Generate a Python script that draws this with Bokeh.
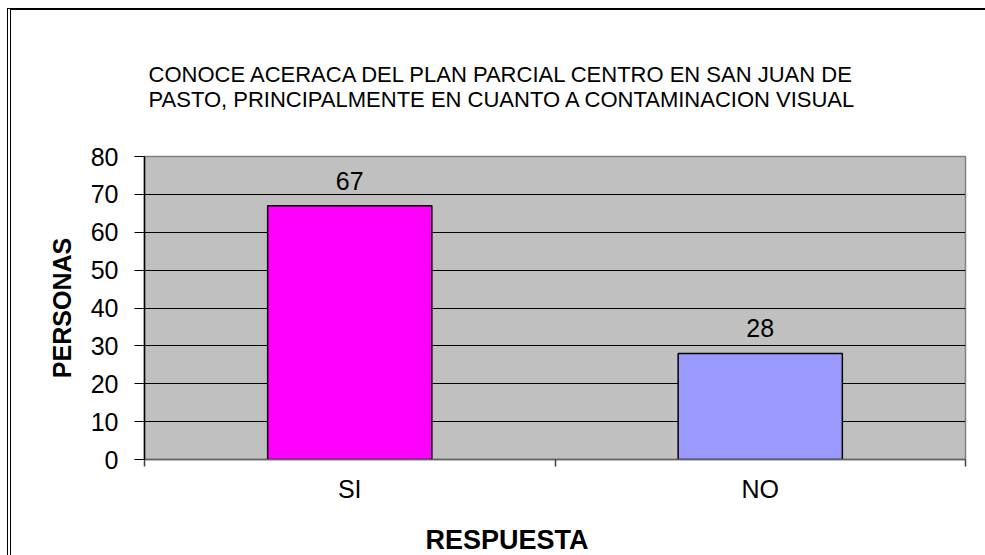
from bokeh.plotting import figure
from bokeh.models import FixedTicker, ColumnDataSource, Range1d, Title
from bokeh.core.properties import value
from bokeh.embed import file_html
from bokeh.resources import INLINE

# ---- data ----
categories = ["SI", "NO"]
personas = [67, 28]
bar_colors = ["#FF00FF", "#9999FF"]
y_ticks = [0, 10, 20, 30, 40, 50, 60, 70, 80]
title_lines = [
    "CONOCE ACERACA DEL PLAN PARCIAL CENTRO EN SAN JUAN DE",
    "PASTO, PRINCIPALMENTE EN CUANTO A CONTAMINACION VISUAL",
]
x_title = "RESPUESTA"
y_title = "PERSONAS"

FONT = "Liberation Sans"

centers = [i + 0.5 for i in range(len(categories))]
src = ColumnDataSource(dict(
    x=centers,
    top=personas,
    color=bar_colors,
    label=[str(v) for v in personas],
))

p = figure(
    width=973, height=545,
    x_range=Range1d(0, len(categories)),
    y_range=Range1d(0, 80),
    output_backend="svg", toolbar_location=None,
    min_border_left=133, min_border_right=20,
    min_border_top=146, min_border_bottom=60,
    frame_width=821, frame_height=303,
    title=None,
)
p.styles = {"border-top": "2px solid black", "border-left": "4px double black",
            "margin-top": "8px", "margin-left": "7px"}
p.background_fill_color = "#C0C0C0"
p.border_fill_color = "white"
p.outline_line_color = "#808080"
p.outline_line_width = 1.5

p.vbar(x="x", top="top", width=0.4, bottom=0, source=src,
       fill_color="color", line_color="black", line_width=1.5)

p.text(x="x", y="top", text="label", source=src,
       text_align="center", text_baseline="middle", y_offset=-25,
       text_font=value(FONT), text_font_size="25px", text_color="black")

# grid
p.xgrid.visible = False
p.ygrid.grid_line_color = "black"
p.ygrid.grid_line_width = 1

# y axis
p.yaxis.ticker = FixedTicker(ticks=y_ticks)
p.yaxis.axis_line_color = "black"
p.yaxis.axis_line_width = 1.5
p.yaxis.major_tick_line_color = "black"
p.yaxis.major_tick_out = 10
p.yaxis.major_tick_in = 0
p.yaxis.minor_tick_line_color = None
p.yaxis.major_label_standoff = 16
p.yaxis.major_label_text_font = FONT
p.yaxis.major_label_text_font_size = "25px"
p.yaxis.major_label_text_color = "black"
p.yaxis.axis_label = y_title
p.yaxis.axis_label_text_font = FONT
p.yaxis.axis_label_text_font_size = "25px"
p.yaxis.axis_label_text_font_style = "bold"
p.yaxis.axis_label_text_color = "black"
p.yaxis.axis_label_standoff = 12

# x axis: labels at centers, tick marks at boundaries
p.xaxis.ticker = FixedTicker(ticks=centers, minor_ticks=list(range(len(categories) + 1)))
p.xaxis.major_label_overrides = {c: cat for c, cat in zip(centers, categories)}
p.xaxis.major_tick_line_color = None
p.xaxis.major_tick_out = 0
p.xaxis.major_tick_in = 0
p.xaxis.minor_tick_line_color = "#404040"
p.xaxis.minor_tick_line_width = 1.5
p.xaxis.minor_tick_out = 7
p.xaxis.minor_tick_in = 0
p.xaxis.axis_line_color = "#606060"
p.xaxis.axis_line_width = 1.5
p.xaxis.major_label_standoff = 8
p.xaxis.major_label_text_font = FONT
p.xaxis.major_label_text_font_size = "25px"
p.xaxis.major_label_text_color = "black"

# x axis title, placed like the original (left of frame centre)
p.add_layout(Title(
    text=x_title, align="left", offset=281, standoff=34,
    text_font=FONT, text_font_size="27px", text_font_style="bold",
    text_color="black",
), "below")

# chart title (two lines); the standoff lifts it away from the frame
p.add_layout(Title(
    text="\n".join(title_lines), align="left", offset=4, standoff=90,
    text_font=FONT, text_font_size="22px", text_font_style="normal",
    text_color="black",
), "above")

open("out.html", "w").write(file_html(p, INLINE))
